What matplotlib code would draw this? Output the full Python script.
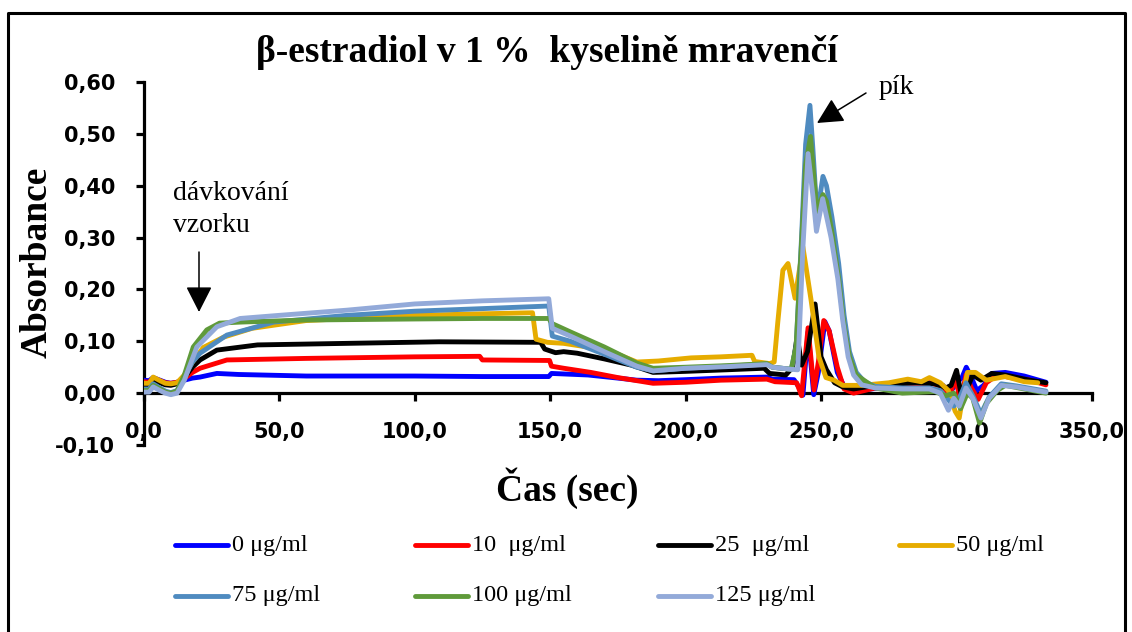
import matplotlib
matplotlib.use("Agg")
import matplotlib.pyplot as plt
from matplotlib.lines import Line2D

# ---------------- data ----------------
title_text = "β-estradiol v 1 %  kyselině mravenčí"
x_label = "Čas (sec)"
y_label = "Absorbance"
x_ticks = [0, 50, 100, 150, 200, 250, 300, 350]
x_tick_labels = ["0,0", "50,0", "100,0", "150,0", "200,0", "250,0", "300,0", "350,0"]
y_ticks = [-0.1, 0.0, 0.1, 0.2, 0.3, 0.4, 0.5, 0.6]
y_tick_labels = ["-0,10", "0,00", "0,10", "0,20", "0,30", "0,40", "0,50", "0,60"]

series_labels = ["0 μg/ml", "10  μg/ml", "25  μg/ml", "50 μg/ml",
                 "75 μg/ml", "100 μg/ml", "125 μg/ml"]
series_colors = ["#0000FF", "#FF0000", "#000000", "#E6AC00",
                 "#4F8BC0", "#5F9A3A", "#93AAD9"]

# 0 ug/ml
t_0 = [0, 2, 3.5, 6, 8, 10, 12.3, 15, 18, 20.8, 27, 35, 60, 100, 125, 149.5, 150.5, 155, 164, 175, 182,
       190, 200, 213, 230, 232, 240, 241.8, 243.3, 245.2, 247.3, 249, 251.4, 253, 256, 259, 265, 280, 290,
       295, 297.5, 300, 302, 303.6, 305.5, 307.5, 310, 313, 318, 325, 333]
a_0 = [0.025, 0.024, 0.030, 0.025, 0.021, 0.019, 0.021, 0.025, 0.029, 0.031, 0.038, 0.036, 0.033, 0.033,
       0.032, 0.032, 0.038, 0.037, 0.035, 0.029, 0.025, 0.024, 0.026, 0.029, 0.031, 0.027, 0.026, 0.012,
       -0.004, 0.118, -0.003, 0.040, 0.138, 0.120, 0.040, 0.008, 0.006, 0.015, 0.020, 0.015, 0.000, 0.020,
       0.030, 0.050, 0.030, 0.005, 0.015, 0.038, 0.040, 0.033, 0.021]

# 10 ug/ml
t_1 = [0, 2, 3.5, 6, 8, 10, 12.3, 15, 18, 20.8, 30.7, 60, 100, 124, 125, 149.8, 150.5, 155, 165, 175,
       188, 200, 213, 230, 233, 241, 242.8, 245.2, 247.4, 249, 251, 253, 256, 258.5, 262, 270, 280, 290,
       295, 297.5, 299.5, 301.5, 303.5, 305.5, 308, 311, 315, 320, 327, 333]
a_1 = [0.022, 0.021, 0.029, 0.024, 0.020, 0.019, 0.021, 0.028, 0.040, 0.048, 0.064, 0.067, 0.070,
       0.071, 0.064, 0.063, 0.052, 0.048, 0.040, 0.030, 0.019, 0.021, 0.025, 0.027, 0.022, 0.020,
       -0.005, 0.126, 0.006, 0.060, 0.140, 0.120, 0.050, 0.008, 0.000, 0.010, 0.015, 0.020, 0.012,
       -0.005, 0.030, -0.015, 0.035, 0.010, -0.012, 0.020, 0.035, 0.030, 0.025, 0.016]

# 25 ug/ml
t_2 = [0, 2, 3.5, 6, 8, 10, 12.3, 15, 18, 20.8, 27, 42, 75, 109, 146.5, 148, 152, 155, 160, 170, 180,
       188, 200, 215, 229, 231, 237, 239.5, 241.2, 242.8, 245, 247.8, 250, 252, 255, 258, 262, 270, 285,
       292, 296, 298, 300, 302, 304, 306, 309, 313, 318, 327, 333]
a_2 = [0.016, 0.016, 0.025, 0.020, 0.016, 0.015, 0.018, 0.030, 0.050, 0.064, 0.083, 0.093, 0.096,
       0.099, 0.098, 0.085, 0.078, 0.080, 0.077, 0.066, 0.054, 0.040, 0.042, 0.045, 0.048, 0.038, 0.035,
       0.050, 0.110, 0.054, 0.080, 0.172, 0.070, 0.045, 0.020, 0.012, 0.008, 0.015, 0.020, 0.018, 0.010,
       0.015, 0.044, -0.010, 0.010, 0.035, 0.025, 0.038, 0.035, 0.025, 0.020]

# 50 ug/ml
t_3 = [0, 2, 3.5, 6, 8, 10, 12.3, 15, 18, 22, 29.5, 40, 60, 100, 125, 143.5, 144.8, 149, 155, 165, 175,
       182, 190, 202, 213, 224.5, 225.5, 231, 232.7, 234, 235.9, 237.8, 240.4, 243.3, 246.3, 249.2, 251.8,
       254.8, 258, 265, 275, 282, 287, 290, 294, 297, 299.5, 301, 302.5, 304, 307, 311, 318, 325, 330]
a_3 = [0.019, 0.019, 0.031, 0.024, 0.019, 0.018, 0.020, 0.035, 0.060, 0.088, 0.108, 0.125, 0.140,
       0.150, 0.153, 0.155, 0.104, 0.098, 0.096, 0.088, 0.075, 0.060, 0.062, 0.068, 0.070, 0.073, 0.061,
       0.057, 0.060, 0.135, 0.237, 0.250, 0.183, 0.282, 0.180, 0.070, 0.030, 0.025, 0.015, 0.015, 0.020,
       0.027, 0.022, 0.030, 0.020, 0.005, -0.035, -0.048, 0.000, 0.040, 0.040, 0.025, 0.032, 0.022, 0.020]

# 75 ug/ml
t_4 = [0, 2, 3.5, 6, 8, 10, 12.3, 15, 18, 20.8, 30.7, 48, 75, 100, 125, 149.5, 150.8, 157.5, 170, 182,
       188, 200, 215, 230, 232, 239, 240.8, 242.8, 244.3, 245.9, 247, 248.3, 249.3, 250.7, 252, 254,
       256.5, 258.5, 260.5, 263, 266, 270, 280, 290, 294, 296.5, 299, 301, 303.5, 306, 309, 312, 316.5,
       322, 333]
a_4 = [0.008, 0.008, 0.018, 0.010, 0.004, 0.001, 0.005, 0.030, 0.060, 0.077, 0.112, 0.137, 0.150,
       0.158, 0.163, 0.168, 0.110, 0.100, 0.075, 0.050, 0.043, 0.048, 0.052, 0.056, 0.050, 0.046, 0.090,
       0.300, 0.480, 0.555, 0.470, 0.360, 0.370, 0.418, 0.400, 0.340, 0.250, 0.150, 0.080, 0.040, 0.022,
       0.013, 0.010, 0.010, 0.005, -0.010, -0.025, -0.010, 0.020, -0.005, -0.040, -0.008, 0.018, 0.014,
       0.004]

# 100 ug/ml
t_5 = [0, 2, 3.5, 6, 8, 10, 12.3, 15, 18.3, 23.3, 28, 35.6, 60, 100, 125, 149.5, 150.8, 157.5, 170,
       182, 188, 200, 215, 230, 232, 239, 240.8, 242.8, 244.3, 246.1, 247.3, 248.5, 250.7, 252, 254,
       256.5, 258.5, 260.5, 263, 270, 280, 292, 296, 299, 301.5, 304, 306, 308.5, 311, 315, 318, 325, 333]
a_5 = [0.005, 0.005, 0.015, 0.008, 0.002, 0.000, 0.004, 0.035, 0.089, 0.122, 0.135, 0.137, 0.141,
       0.143, 0.144, 0.144, 0.134, 0.118, 0.089, 0.058, 0.048, 0.050, 0.053, 0.057, 0.050, 0.046, 0.090,
       0.290, 0.440, 0.495, 0.420, 0.350, 0.383, 0.370, 0.310, 0.220, 0.130, 0.070, 0.035, 0.010, 0.000,
       0.003, -0.005, 0.000, -0.030, 0.000, -0.010, -0.058, -0.020, 0.005, 0.015, 0.008, 0.000]

# 125 ug/ml
t_6 = [0, 2, 3.5, 6, 8, 10, 12.3, 15, 19.6, 27, 35.6, 50, 75, 100, 125, 149.5, 150.8, 157.5, 170, 182,
       188, 200, 215, 230, 232, 239, 241.4, 243.3, 245.2, 247, 248.3, 250.6, 253.7, 256.2, 258, 260, 262,
       265, 270, 280, 290, 294, 297, 299, 301, 303.5, 306, 309, 312, 316.5, 322, 333]
a_6 = [0.002, 0.002, 0.012, 0.005, 0.000, -0.003, 0.000, 0.025, 0.089, 0.128, 0.144, 0.150, 0.160,
       0.172, 0.178, 0.182, 0.125, 0.110, 0.080, 0.052, 0.043, 0.048, 0.051, 0.055, 0.050, 0.046, 0.045,
       0.280, 0.462, 0.380, 0.312, 0.375, 0.300, 0.220, 0.140, 0.070, 0.035, 0.016, 0.010, 0.008, 0.008,
       0.000, -0.033, -0.010, -0.025, 0.010, -0.010, -0.048, -0.010, 0.015, 0.012, 0.002]

series_t = [t_0, t_1, t_2, t_3, t_4, t_5, t_6]
series_a = [a_0, a_1, a_2, a_3, a_4, a_5, a_6]

# ---------------- figure ----------------
W, H = 1132, 632
fig = plt.figure(figsize=(W / 100, H / 100), dpi=100)
fig.patch.set_facecolor("white")


def fx(px):
    return px / W


def fy(py):
    return 1 - py / H


ax_left, ax_right, ax_top, ax_bottom = 143.7, 1092.0, 82.0, 445.0
ax = fig.add_axes([fx(ax_left), fy(ax_bottom), (ax_right - ax_left) / W, (ax_bottom - ax_top) / H])
ax.set_facecolor("none")

for t, a, c in zip(series_t, series_a, series_colors):
    ax.plot(t, a, color=c, lw=3.5, solid_joinstyle="round", solid_capstyle="round", zorder=3)

ax.set_xlim(0, 350)
ax.set_ylim(-0.1, 0.6)
ax.spines["top"].set_visible(False)
ax.spines["right"].set_visible(False)
ax.spines["bottom"].set_position(("data", 0))
for s in ("left", "bottom"):
    ax.spines[s].set_linewidth(2.3)
    ax.spines[s].set_zorder(2)

ax.set_xticks(x_ticks)
ax.set_xticklabels(x_tick_labels)
ax.set_yticks(y_ticks)
ax.set_yticklabels(y_tick_labels)
ax.tick_params(axis="both", direction="out", length=5.5, width=2.3, labelsize=15, pad=15)
for lab in ax.get_xticklabels() + ax.get_yticklabels():
    lab.set_fontweight("bold")
    lab.set_family("DejaVu Sans")

# title and axis labels
fig.text(fx(547), fy(52), title_text, ha="center", va="center",
         family="Liberation Serif", fontweight="bold", fontsize=27)
fig.text(fx(37), fy(262), y_label, ha="center", va="center", rotation=90,
         family="Liberation Serif", fontweight="bold", fontsize=27)
fig.text(fx(567), fy(488), x_label, ha="center", va="center",
         family="Liberation Serif", fontweight="bold", fontsize=27)

# annotations
fig.text(fx(173), fy(193), "dávkování", ha="left", va="center",
         family="Liberation Serif", fontsize=20)
fig.text(fx(173), fy(225), "vzorku", ha="left", va="center",
         family="Liberation Serif", fontsize=20)
fig.text(fx(879), fy(88), "pík", ha="left", va="center",
         family="Liberation Serif", fontsize=20)

arrow_kw = dict(arrowstyle="-|>,head_length=0.55,head_width=0.28", color="black", lw=1.1,
                mutation_scale=29, shrinkA=0, shrinkB=0)
ax.annotate("", xy=(fx(199), fy(312)), xytext=(fx(199), fy(252)),
            xycoords="figure fraction", textcoords="figure fraction", arrowprops=arrow_kw)
ax.annotate("", xy=(fx(817), fy(123)), xytext=(fx(866), fy(93)),
            xycoords="figure fraction", textcoords="figure fraction", arrowprops=arrow_kw)

# legend (manual placement of entries)
col_x = [175, 415, 658, 899]
row_y = [545, 596]
for i, (lab, c) in enumerate(zip(series_labels, series_colors)):
    x0 = col_x[i % 4]
    y0 = row_y[i // 4]
    fig.add_artist(Line2D([fx(x0), fx(x0 + 53)], [fy(y0), fy(y0)], color=c, lw=3.5,
                          solid_capstyle="round"))
    fig.text(fx(x0 + 57), fy(y0), lab, ha="left", va="center",
             family="Liberation Serif", fontsize=17.5)

# outer frame
fig.add_artist(Line2D([fx(8), fx(8), fx(1125), fx(1125)], [0, fy(13), fy(13), 0],
                      color="black", lw=2.2))

fig.savefig("out.png", dpi=100, facecolor="white")
